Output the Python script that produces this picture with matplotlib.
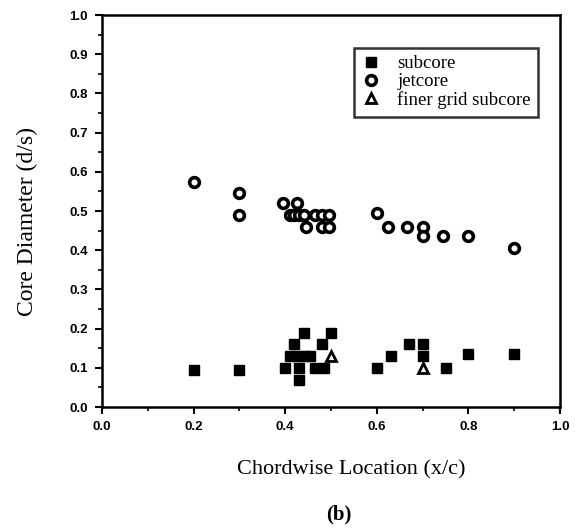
import matplotlib
matplotlib.use("Agg")
import matplotlib.pyplot as plt
from matplotlib.ticker import MultipleLocator

# Data
subcore_x = [0.20, 0.30, 0.44, 0.50, 0.42, 0.48, 0.41, 0.425, 0.44, 0.455,
             0.40, 0.43, 0.43, 0.465, 0.485, 0.60, 0.63, 0.67, 0.70, 0.70,
             0.75, 0.80, 0.90]
subcore_y = [0.095, 0.095, 0.19, 0.19, 0.16, 0.16, 0.13, 0.13, 0.13, 0.13,
             0.10, 0.10, 0.07, 0.10, 0.10, 0.10, 0.13, 0.16, 0.16, 0.13,
             0.10, 0.135, 0.135]

jetcore_x = [0.20, 0.30, 0.30, 0.395, 0.425, 0.41, 0.42, 0.43, 0.44,
             0.445, 0.465, 0.48, 0.495, 0.48, 0.495, 0.60, 0.625, 0.665,
             0.70, 0.70, 0.745, 0.80, 0.90]
jetcore_y = [0.575, 0.545, 0.49, 0.52, 0.52, 0.49, 0.49, 0.49, 0.49,
             0.46, 0.49, 0.46, 0.46, 0.49, 0.49, 0.495, 0.46, 0.46,
             0.46, 0.435, 0.435, 0.435, 0.405]

finer_x = [0.50, 0.70]
finer_y = [0.13, 0.10]

x_ticks = [0.0, 0.2, 0.4, 0.6, 0.8, 1.0]
y_ticks = [0.0, 0.1, 0.2, 0.3, 0.4, 0.5, 0.6, 0.7, 0.8, 0.9, 1.0]

fig = plt.figure(figsize=(5.86, 5.29), dpi=100)
ax = fig.add_axes([102/586, 122/529, 458/586, 392/529])

ax.plot(subcore_x, subcore_y, linestyle='none', marker='s', markersize=7,
        color='black', label='subcore')
ax.plot(jetcore_x, jetcore_y, linestyle='none', marker='o', markersize=7,
        markerfacecolor='white', markeredgecolor='black', markeredgewidth=2.6,
        label='jetcore')
ax.plot(finer_x, finer_y, linestyle='none', marker='^', markersize=7.5,
        markerfacecolor='white', markeredgecolor='black', markeredgewidth=2.0,
        label='finer grid subcore')

ax.set_xlim(0, 1.0)
ax.set_ylim(0, 1.0)
ax.set_xticks(x_ticks)
ax.set_yticks(y_ticks)
ax.set_xticklabels([f"{v:.1f}" for v in x_ticks])
ax.set_yticklabels([f"{v:.1f}" for v in y_ticks])
ax.xaxis.set_minor_locator(MultipleLocator(0.1))
ax.yaxis.set_minor_locator(MultipleLocator(0.05))
ax.tick_params(which='major', direction='out', length=5, width=1.5,
               top=False, right=False)
ax.tick_params(which='minor', direction='out', length=3, width=1.2,
               top=False, right=False)
for lab in ax.get_xticklabels() + ax.get_yticklabels():
    lab.set_fontfamily('Liberation Sans')
    lab.set_fontweight('bold')
    lab.set_fontsize(9.5)
ax.tick_params(axis='x', pad=5)
ax.tick_params(axis='y', pad=5)
for sp in ax.spines.values():
    sp.set_linewidth(1.8)

ax.set_xlabel('Chordwise Location (x/c)', fontfamily='Liberation Serif',
              fontsize=16)
ax.xaxis.label.set_verticalalignment('center')
ax.xaxis.set_label_coords(0.544, -0.161)
ax.set_ylabel('Core Diameter (d/s)', fontfamily='Liberation Serif',
              fontsize=17)
ax.yaxis.label.set_verticalalignment('center')
ax.yaxis.set_label_coords(-0.162, 0.474)

leg = ax.legend(loc='upper left', bbox_to_anchor=(0.55, 0.917),
                prop={'family': 'Liberation Serif', 'size': 13.5},
                frameon=True, fancybox=False, edgecolor='black',
                handletextpad=0.9, borderpad=0.4, labelspacing=0.05,
                handlelength=1.0, borderaxespad=0)
leg.get_frame().set_linewidth(1.8)

fig.text(339/586, 1 - 514/529, '(b)', ha='center', va='center',
         fontfamily='Liberation Serif', fontweight='bold', fontsize=15)

fig.savefig('out.png', dpi=100)
